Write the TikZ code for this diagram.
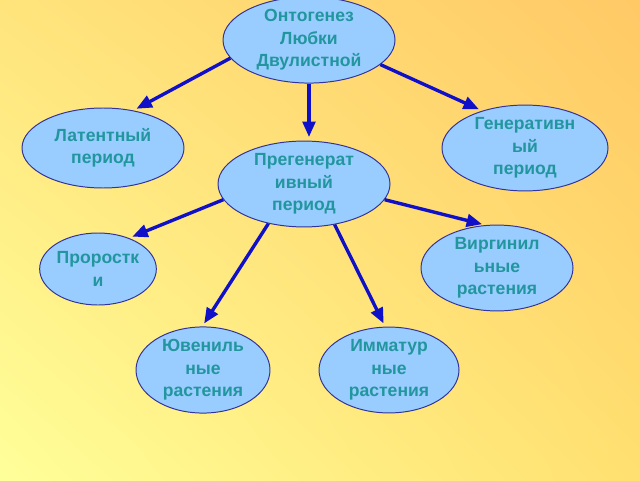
\documentclass[tikz,border=0pt]{standalone}
\usepackage{fontspec}
\setmainfont{Liberation Sans}
\usepackage{tikz}
\usetikzlibrary{shapes.geometric,arrows.meta,shadings}

\definecolor{ovalfill}{HTML}{99CCFF}
\definecolor{ovaledge}{HTML}{333399}
\definecolor{labeltext}{HTML}{22969E}
\definecolor{arrowblue}{HTML}{1010C8}
\definecolor{bgll}{HTML}{FFFF99}
\definecolor{bgul}{HTML}{FFE47C}
\definecolor{bglr}{HTML}{FFE070}
\definecolor{bgur}{HTML}{FFC966}

\begin{document}
\begin{tikzpicture}[
  oval/.style={ellipse,draw=ovaledge,fill=ovalfill,line width=0.7pt,inner sep=0pt,
    align=center,text=labeltext,font=\bfseries\fontsize{12.5}{16}\selectfont},
  link/.style={draw=arrowblue,line width=2.4pt,-{Triangle[length=11pt,width=9pt]},shorten >=2.5pt}
]
\useasboundingbox (0,0) rectangle (16,12);
\shade[lower left=bgll,upper left=bgul,lower right=bglr,upper right=bgur] (0,0) rectangle (16,12);

\node[oval,minimum width=4.3cm,minimum height=2cm] (onto) at (7.725,11) {Онтогенез\\Любки\\Двулистной};
\node[oval,minimum width=4.05cm,minimum height=2cm] (latent) at (2.575,8.3) {Латентный\\период};
\node[oval,minimum width=4.15cm,minimum height=1.9cm] (gener) at (13.125,8.3) {Генеративн\\ый\\период};
\node[oval,minimum width=4.3cm,minimum height=2.05cm] (pregen) at (7.6,7.4) {Прегенерат\\ивный\\период};

\node[oval,minimum width=2.8cm,minimum height=1.8cm] (sprout) at (2.45,5.275) {Проростк\\и};
\node[oval,minimum width=3.8cm,minimum height=1.8cm] (virgin) at (12.425,5.3) {Виргинил\\ьные\\растения};
\node[oval,minimum width=3.35cm,minimum height=1.7cm] (juven) at (5.075,2.75) {Ювениль\\ные\\растения};
\node[oval,minimum width=3.5cm,minimum height=1.7cm] (immat) at (9.725,2.75) {Имматур\\ные\\растения};

% arrows from the top
\draw[link] (onto.193) -- (latent.51);
\draw[link] (onto.south) -- (onto.south |- pregen.north);
\draw[link] (onto.-19) -- (gener.139);

% arrows from the middle
\draw[link] (pregen.191) -- (sprout.45);
\draw[link] (pregen.228) -- (juven.91);
\draw[link] (pregen.307) -- (immat.95);
\draw[link] (pregen.349) -- (virgin.105);
\end{tikzpicture}
\end{document}
